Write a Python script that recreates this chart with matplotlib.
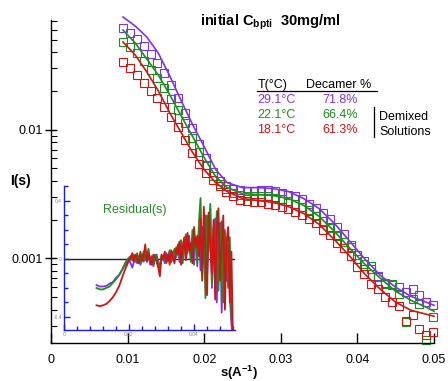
import matplotlib.pyplot as plt
from matplotlib.lines import Line2D
from matplotlib.ticker import (FixedLocator, LogLocator, NullFormatter,
                               MultipleLocator, FuncFormatter)

plt.rcParams['font.family'] = ['Liberation Sans', 'DejaVu Sans']
plt.rcParams['mathtext.fontset'] = 'custom'
plt.rcParams['mathtext.rm'] = 'Liberation Sans'
plt.rcParams['mathtext.bf'] = 'Liberation Sans:bold'

# scattering data (squares), s in 1/A
s_pts = [0.0094, 0.0103, 0.0112, 0.0121, 0.0130, 0.0139, 0.0148, 0.0157, 0.0166, 0.0175,
         0.0184, 0.0193, 0.0202, 0.0211, 0.0220, 0.0229, 0.0238, 0.0247, 0.0256, 0.0265,
         0.0274, 0.0283, 0.0292, 0.0301, 0.0310, 0.0319, 0.0328, 0.0337, 0.0346, 0.0355,
         0.0364, 0.0373, 0.0382, 0.0391, 0.0400, 0.0409, 0.0418, 0.0427, 0.0436, 0.0445,
         0.0454, 0.0463, 0.0472, 0.0481, 0.0490, 0.0499]
i_29 = [0.0618, 0.0565, 0.0508, 0.0448, 0.0388, 0.0331, 0.0277, 0.0223, 0.0177, 0.01355,
        0.01036, 0.00779, 0.00607, 0.00473, 0.00403, 0.00368, 0.00349, 0.00343, 0.00337, 0.00337,
        0.00343, 0.00343, 0.00337, 0.00325, 0.00313, 0.00303, 0.00287, 0.00267, 0.00248, 0.00227,
        0.00201, 0.00174, 0.00154, 0.00128, 0.00107, 0.000948, 0.000822, 0.000725, 0.00064, 0.000618,
        0.000596, 0.000545, 0.000575, 0.000516, 0.000456, 0.000432]
i_22 = [0.0481, 0.0440, 0.0395, 0.0343, 0.0292, 0.0253, 0.0212, 0.0174, 0.0143, 0.01133,
        0.00867, 0.00675, 0.00535, 0.00440, 0.00381, 0.00349, 0.00325, 0.00313, 0.00308, 0.00308,
        0.00308, 0.00303, 0.00297, 0.00287, 0.00277, 0.00267, 0.00253, 0.00236, 0.00215, 0.00194,
        0.00171, 0.00148, 0.00133, 0.00122, 0.000983, 0.000898, 0.000867, 0.000712, 0.000628, 0.000628,
        0.000526, 0.000319, 0.000481, 0.00044, 0.000231, 0.000349]
i_18 = [0.0337, 0.0302, 0.0267, 0.0231, 0.0201, 0.0177, 0.0151, 0.0126, 0.01055, 0.00837,
        0.00664, 0.00545, 0.00464, 0.0041, 0.00368, 0.00331, 0.00303, 0.00282, 0.00277, 0.00272,
        0.00272, 0.00267, 0.00262, 0.00253, 0.00244, 0.00231, 0.00219, 0.00204, 0.00187, 0.00165,
        0.00151, 0.00131, 0.0012, 0.00104, 0.000851, 0.000752, 0.000628, 0.000575, 0.000499, 0.000456,
        0.000425, 0.000325, 0.000362, 0.000282, 0.000253, 0.000267]

# fitted curves
s_fit = [0.0094, 0.0110, 0.0125, 0.0140, 0.0155, 0.0170, 0.0185, 0.0200, 0.0215, 0.0230,
         0.0250, 0.0270, 0.0290, 0.0310, 0.0330, 0.0350, 0.0370, 0.0390, 0.0410, 0.0430,
         0.0450, 0.0470, 0.0490, 0.0500]
fit_29 = [0.0752, 0.0640, 0.0526, 0.0395, 0.0262, 0.0168, 0.01093, 0.00738, 0.0049, 0.00388,
          0.00355, 0.00355, 0.00349, 0.00331, 0.00292, 0.00244, 0.00187, 0.00136, 0.000983, 0.000738,
          0.000596, 0.000507, 0.000456, 0.000432]
fit_22 = [0.0596, 0.0472, 0.0355, 0.0267, 0.0187, 0.01284, 0.00882, 0.00607, 0.00432, 0.00355,
          0.00319, 0.00313, 0.00308, 0.00292, 0.00258, 0.00212, 0.00162, 0.0012, 0.000898, 0.0007,
          0.000555, 0.000472, 0.000417, 0.000388]
fit_18 = [0.0481, 0.0381, 0.0282, 0.0201, 0.01355, 0.00948, 0.00664, 0.0049, 0.00388, 0.00331,
          0.00292, 0.00282, 0.00272, 0.00253, 0.00223, 0.00184, 0.0014, 0.00104, 0.000752, 0.000575,
          0.000456, 0.000395, 0.000368, 0.000355]

# residuals (inset)
s_res = [0.0100, 0.0110, 0.0120, 0.0130, 0.0140, 0.0150, 0.0160, 0.0170, 0.0180, 0.0190,
         0.0200, 0.0205, 0.0210, 0.0215, 0.0220, 0.0225, 0.0230, 0.0235, 0.0240, 0.0245,
         0.0250, 0.0255, 0.0260, 0.0265, 0.0270, 0.0275, 0.0280, 0.0285, 0.0290, 0.0295,
         0.0300, 0.0305, 0.0310, 0.0315, 0.0320, 0.0325, 0.0330, 0.0335, 0.0340, 0.0345,
         0.0350, 0.0355, 0.0360, 0.0365, 0.0370, 0.0375, 0.0380, 0.0385, 0.0390, 0.0395,
         0.0400, 0.0405, 0.0410, 0.0415, 0.0420, 0.0425, 0.0430, 0.0435, 0.0440, 0.0445,
         0.0450, 0.0455, 0.0460, 0.0465, 0.0470, 0.0475, 0.0480, 0.0485, 0.0490, 0.0495,
         0.0500, 0.0505, 0.0510, 0.0515, 0.0520]
res_29 = [-0.18, -0.19, -0.19, -0.186, -0.17, -0.16, -0.13, -0.11, -0.07, -0.035, 0.0,
          -0.03, -0.06, -0.02, 0.01, -0.03, 0.02, -0.04, 0.00, -0.02, 0.03,
          -0.01, 0.02, -0.04, 0.01, -0.05, 0.00, 0.03, -0.02, -0.06, 0.01,
          0.02, -0.03, 0.04, -0.01, 0.03, -0.02, 0.05, 0.00, 0.04,
          0.08, -0.02, 0.10, 0.03, 0.14, -0.01, 0.09, 0.16, 0.02, 0.12, -0.04, 0.15, 0.05, 0.18,
          -0.08, 0.22, 0.05, 0.30, -0.12, 0.18, 0.35, -0.20, 0.10, 0.28, -0.30, 0.15, 0.25, -0.37,
          0.05, 0.20, -0.15, 0.10, -0.25, -0.45, -0.55]
res_22 = [-0.20, -0.21, -0.21, -0.20, -0.19, -0.165, -0.14, -0.11, -0.07, -0.02, 0.01,
          0.02, -0.01, 0.03, -0.02, 0.04, 0.00, -0.03, 0.02, 0.05, -0.01,
          0.03, 0.07, -0.02, 0.02, -0.04, 0.03, 0.01, -0.03, -0.05, 0.02,
          -0.01, 0.04, -0.03, 0.02, 0.06, -0.02, 0.03, 0.07, 0.01,
          0.10, 0.02, 0.13, -0.03, 0.08, 0.17, 0.04, 0.12, -0.02, 0.20, 0.06, 0.14, -0.05, 0.25,
          0.42, -0.10, 0.15, -0.27, 0.30, 0.05, 0.38, -0.18, 0.22, -0.05, 0.33, -0.22, 0.12, 0.26,
          -0.30, 0.18, 0.02, -0.20, 0.15, -0.40, -0.52]
res_18 = [-0.32, -0.325, -0.32, -0.31, -0.29, -0.265, -0.23, -0.185, -0.12, -0.06, -0.01,
          0.01, 0.04, -0.02, 0.03, 0.00, -0.03, 0.05, -0.01, 0.02, 0.10,
          -0.02, 0.04, 0.00, -0.04, 0.03, 0.01, -0.02, -0.06, -0.12, 0.03,
          0.00, 0.05, -0.02, 0.03, -0.04, 0.06, 0.01, -0.03, 0.08,
          0.03, 0.12, -0.04, 0.09, 0.15, 0.00, 0.18, 0.06, 0.11, -0.03, 0.22, 0.08, 0.16, 0.02,
          0.28, -0.15, 0.36, 0.05, -0.25, 0.32, 0.10, -0.10, 0.27, -0.28, 0.20, 0.35, -0.15, 0.08,
          0.30, -0.35, 0.12, 0.22, -0.30, 0.05, -0.60]

temps = ['29.1\u00b0C', '22.1\u00b0C', '18.1\u00b0C']
decamer = ['71.8%', '66.4%', '61.3%']
colors = ['#8033E6', '#1E8C1E', '#D01414']
blue = '#1A1AE0'

W, H = 448, 381
fig = plt.figure(figsize=(W / 100, H / 100), dpi=100)

# main axes
ax = fig.add_axes([51 / W, 1 - 343 / H, 383 / W, 323 / H])
ax.set_yscale('log')
for pts, fit, c in zip([i_29, i_22, i_18], [fit_29, fit_22, fit_18], colors):
    ax.plot(s_pts, pts, ls='none', marker='s', ms=5.2, mfc='none', mec=c, mew=0.8,
            clip_on=False, zorder=2)
    ax.plot(s_fit, fit, color=c, lw=1.2, clip_on=False, zorder=3)
ax.set_xlim(0, 0.05)
ax.set_ylim(0.00022, 0.0713)
for sp in ['top', 'right']:
    ax.spines[sp].set_visible(False)
ax.spines['left'].set_linewidth(1)
ax.spines['bottom'].set_linewidth(1)
ax.set_xticks([0, 0.01, 0.02, 0.03, 0.04, 0.05])
ax.set_xticklabels(['0', '0.01', '0.02', '0.03', '0.04', '0.05'])
ax.yaxis.set_major_locator(FixedLocator([0.001, 0.01]))
ax.set_yticklabels(['0.001', '0.01'])
ax.yaxis.set_minor_locator(LogLocator(base=10, subs=range(2, 10)))
ax.yaxis.set_minor_formatter(NullFormatter())
ax.tick_params(axis='x', direction='in', length=7, width=1, pad=8, labelsize=9)
ax.tick_params(axis='y', which='major', direction='inout', length=8, width=1, labelsize=9, pad=2)
ax.tick_params(axis='y', which='minor', direction='in', length=4, width=0.8)

# residual inset
axi = fig.add_axes([64 / W, 1 - 330 / H, 171 / W, 144 / H])
axi.patch.set_alpha(0)
for sp in ['top', 'right']:
    axi.spines[sp].set_visible(False)
for sp in ['left', 'bottom']:
    axi.spines[sp].set_color(blue)
    axi.spines[sp].set_linewidth(1)
axi.axhline(0, color='#222222', lw=1, zorder=1)
for res, c in zip([res_29, res_22, res_18], colors):
    axi.plot(s_res, res, color=c, lw=1.3, zorder=2)
axi.set_xlim(0, 0.0526)
axi.set_ylim(-0.49, 0.503)
axi.xaxis.set_major_locator(MultipleLocator(0.02))
axi.xaxis.set_minor_locator(MultipleLocator(0.004))
axi.yaxis.set_major_locator(MultipleLocator(0.4))
axi.yaxis.set_minor_locator(MultipleLocator(0.1))
fmt = FuncFormatter(lambda v, p: '%g' % round(v, 3))
axi.xaxis.set_major_formatter(fmt)
axi.yaxis.set_major_formatter(fmt)
axi.tick_params(which='both', direction='in', color=blue, labelcolor='#808080',
                labelsize=3.5, pad=1.5, width=1)
axi.tick_params(which='major', length=4)
axi.tick_params(which='minor', length=3)
fig.text(103 / W, 1 - 210 / H, 'Residual(s)', color='#2A8A2A', fontsize=9, va='center')

# titles and labels
fig.text(200 / W, 1 - 22 / H, r'initial C$_{\mathbf{bpti}}$  30mg/ml', fontsize=10.5,
         fontweight='bold', va='center')
fig.text(10 / W, 1 - 181 / H, 'I(s)', fontsize=10, fontweight='bold', va='center')
fig.text(239 / W, 1 - 364 / H, r's(A$^{\mathbf{-1}}$)', fontsize=9.5, fontweight='bold',
         ha='center', va='top')

# table legend
fig.text(258 / W, 1 - 85 / H, 'T(\u00b0C)', fontsize=9, va='center')
fig.text(306 / W, 1 - 85 / H, 'Decamer %', fontsize=9, va='center')
fig.add_artist(Line2D([257 / W, 377 / W], [1 - 91 / H, 1 - 91 / H], color='k', lw=0.9))
for k in range(3):
    y = 1 - (100 + 15 * k) / H
    fig.text(257 / W, y, temps[k], color=colors[k], fontsize=9, va='center')
    fig.text(322 / W, y, decamer[k], color=colors[k], fontsize=9, va='center')
fig.add_artist(Line2D([374 / W, 374 / W], [1 - 107 / H, 1 - 137 / H], color='k', lw=0.9))
fig.text(379 / W, 1 - 117 / H, 'Demixed', fontsize=9, va='center')
fig.text(379 / W, 1 - 132 / H, 'Solutions', fontsize=9, va='center')

fig.savefig('out.png', dpi=100)
